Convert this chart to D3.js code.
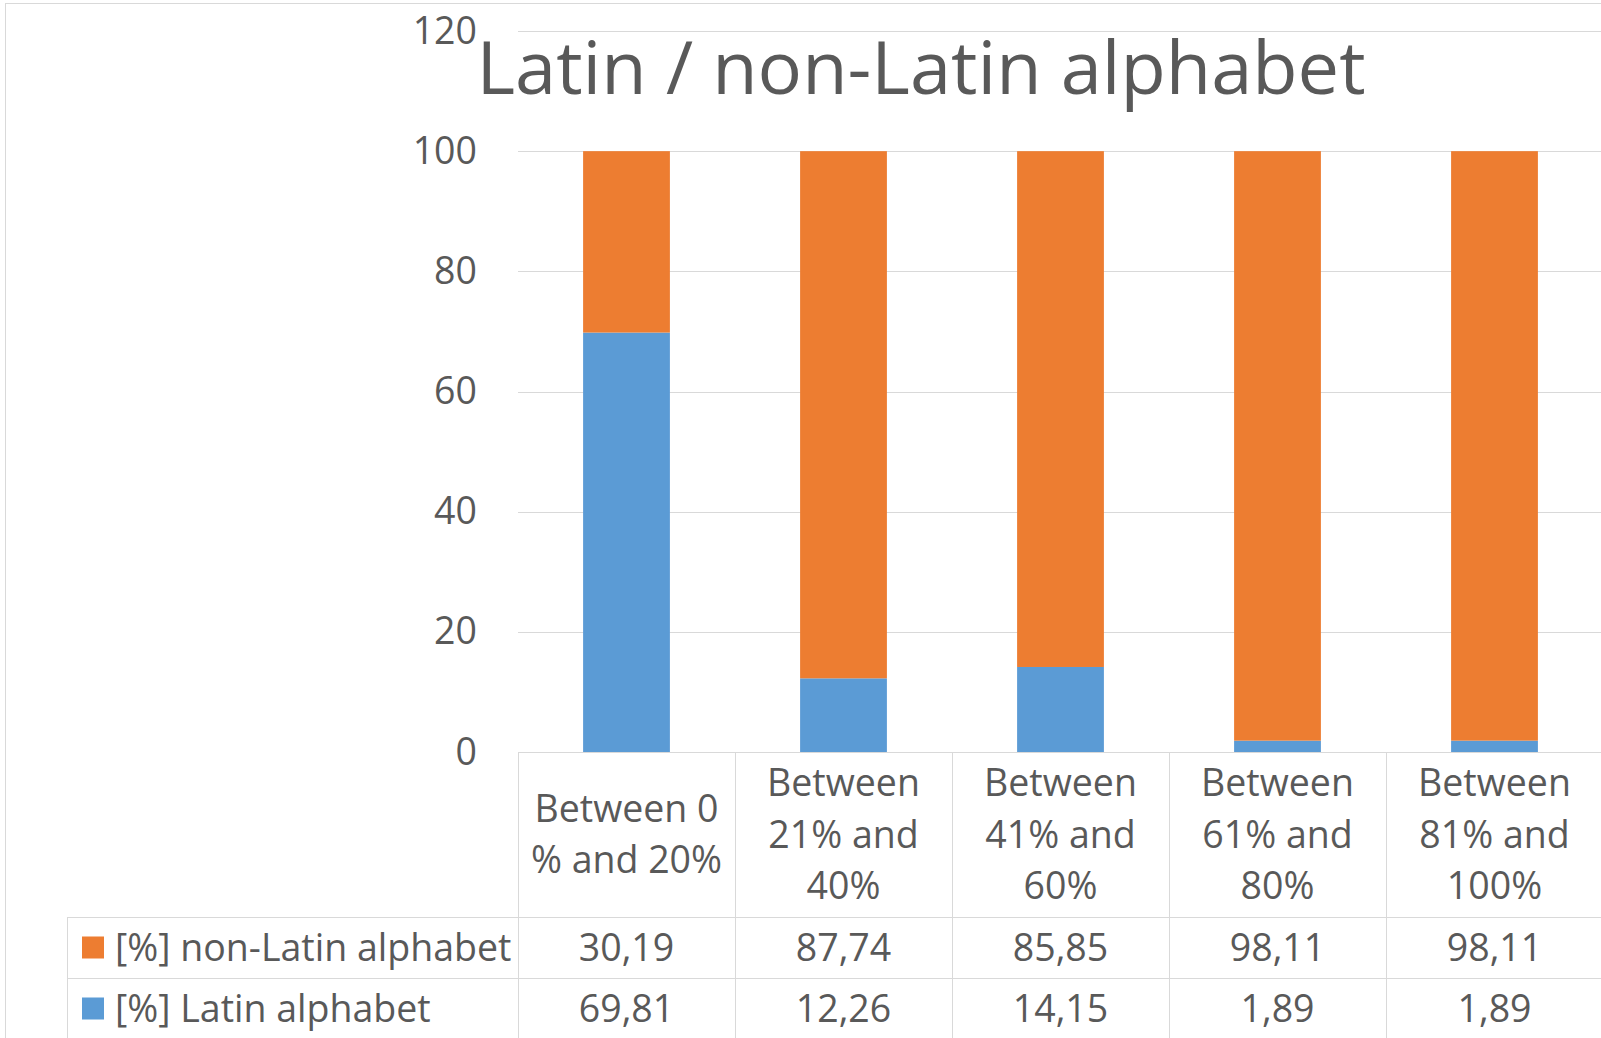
<!DOCTYPE html>
<html>
<head>
<meta charset="utf-8">
<script src="https://cdn.jsdelivr.net/npm/d3@7"></script>
<style>
  body { margin: 0; background: #fff; }
  text { font-family: "Open Sans", sans-serif; fill: #595959; }
</style>
</head>
<body>
<div id="chart"></div>
<script>
// chart data
const title = "Latin / non-Latin alphabet";
const categories = ["Between 0 % and 20%", "Between 21% and 40%", "Between 41% and 60%", "Between 61% and 80%", "Between 81% and 100%"];
const nonLatin = [30.19, 87.74, 85.85, 98.11, 98.11];
const latin = [69.81, 12.26, 14.15, 1.89, 1.89];
const seriesNames = {nonLatin: "[%] non-Latin alphabet", latin: "[%] Latin alphabet"};
const yTicks = [0, 20, 40, 60, 80, 100, 120];

const colors = {nonLatin: "#ED7D31", latin: "#5B9BD5"};
const gridColor = "#D9D9D9";
const fs = 37.5;

const width = 1601;
const height = 1038;

const plotLeft = 518, plotRight = 1603;
const plotTop = 31, plotBottom = 752;
const rowH = 61;
const headerBottom = 917;
const legendLeft = 67;

const rows = categories.map((c, i) => ({cat: c, latin: latin[i], nonLatin: nonLatin[i]}));

// comma decimal like the source
const fmt = d3.formatLocale({decimal: ",", thousands: ".", grouping: [3], currency: ["", ""]}).format(".2f");

const svg = d3.select("#chart").append("svg")
  .attr("width", width)
  .attr("height", height);

// outer chart border
svg.append("rect")
  .attr("x", 5.5).attr("y", 3.5)
  .attr("width", width).attr("height", height)
  .attr("fill", "none").attr("stroke", gridColor);

// scales
const x = d3.scaleBand()
  .domain(categories)
  .range([plotLeft, plotRight])
  .paddingInner(0.6)
  .paddingOuter(0.3);

const col = d3.scaleBand()
  .domain(categories)
  .range([plotLeft, plotRight]);

const y = d3.scaleLinear()
  .domain([0, 120])
  .range([plotBottom, plotTop]);

// gridlines
svg.append("g")
  .selectAll("line")
  .data(yTicks.filter(t => t > 0))
  .join("line")
  .attr("x1", plotLeft).attr("x2", width)
  .attr("y1", d => Math.round(y(d)) + 0.5).attr("y2", d => Math.round(y(d)) + 0.5)
  .attr("stroke", gridColor);

// y axis labels
const yAxis = svg.append("g")
  .attr("transform", `translate(${plotLeft - 41},0)`)
  .call(d3.axisLeft(y).tickValues(yTicks).tickSize(0).tickPadding(0));
yAxis.select(".domain").remove();
yAxis.selectAll("text")
  .attr("font-size", fs)
  .attr("font-family", "Open Sans, sans-serif")
  .attr("fill", "#595959");

// stacked bars
const stack = d3.stack().keys(["latin", "nonLatin"]);
const series = stack(rows);

svg.append("g")
  .selectAll("g")
  .data(series)
  .join("g")
  .attr("fill", d => colors[d.key])
  .selectAll("rect")
  .data(d => d)
  .join("rect")
  .attr("x", d => x(d.data.cat))
  .attr("width", x.bandwidth())
  .attr("y", d => y(d[1]))
  .attr("height", d => y(d[0]) - y(d[1]));

// title
svg.append("text")
  .attr("x", 921)
  .attr("y", 94)
  .attr("text-anchor", "middle")
  .attr("font-size", 74)
  .text(title);

// data table lines
const tbl = svg.append("g").attr("stroke", gridColor).attr("fill", "none");
const rowY = [plotBottom, headerBottom, headerBottom + rowH, headerBottom + 2 * rowH];
tbl.append("line")
  .attr("x1", plotLeft).attr("x2", width)
  .attr("y1", plotBottom + 0.5).attr("y2", plotBottom + 0.5);
tbl.selectAll("line.h")
  .data(rowY.slice(1))
  .join("line")
  .attr("class", "h")
  .attr("x1", legendLeft).attr("x2", width)
  .attr("y1", d => d + 0.5).attr("y2", d => d + 0.5);
tbl.selectAll("line.v")
  .data(categories)
  .join("line")
  .attr("class", "v")
  .attr("x1", d => col(d) + 0.5).attr("x2", d => col(d) + 0.5)
  .attr("y1", plotBottom).attr("y2", height);
tbl.append("line")
  .attr("x1", legendLeft + 0.5).attr("x2", legendLeft + 0.5)
  .attr("y1", headerBottom).attr("y2", height);

// category labels with wrapping
function wrapLines(str, maxW) {
  const probe = svg.append("text").attr("font-size", fs);
  const words = str.split(" ");
  const lines = [];
  let cur = "";
  words.forEach(w => {
    const test = cur ? cur + " " + w : w;
    probe.text(test);
    if (cur && probe.node().getComputedTextLength() > maxW) {
      lines.push(cur);
      cur = w;
    } else {
      cur = test;
    }
  });
  lines.push(cur);
  probe.remove();
  return lines;
}

const lineH = 51.5;
const headerMid = (plotBottom + headerBottom) / 2;
categories.forEach(c => {
  const lines = wrapLines(c, 200);
  const t = svg.append("text")
    .attr("text-anchor", "middle")
    .attr("font-size", fs);
  lines.forEach((ln, i) => {
    t.append("tspan")
      .attr("x", col(c) + col.bandwidth() / 2)
      .attr("y", headerMid + 13 + (i - (lines.length - 1) / 2) * lineH)
      .text(ln);
  });
});

// value rows
const keys = ["nonLatin", "latin"];
keys.forEach((k, r) => {
  const mid = headerBottom + rowH * r + rowH / 2;
  svg.append("g")
    .selectAll("text")
    .data(rows)
    .join("text")
    .attr("x", d => col(d.cat) + col.bandwidth() / 2)
    .attr("y", mid + 13)
    .attr("text-anchor", "middle")
    .attr("font-size", fs)
    .text(d => fmt(d[k]));

  // legend key
  svg.append("rect")
    .attr("x", 82).attr("y", mid - 11)
    .attr("width", 22).attr("height", 22)
    .attr("fill", colors[k]);
  svg.append("text")
    .attr("x", 115)
    .attr("y", mid + 13)
    .attr("font-size", fs)
    .text(seriesNames[k]);
});
</script>
</body>
</html>
